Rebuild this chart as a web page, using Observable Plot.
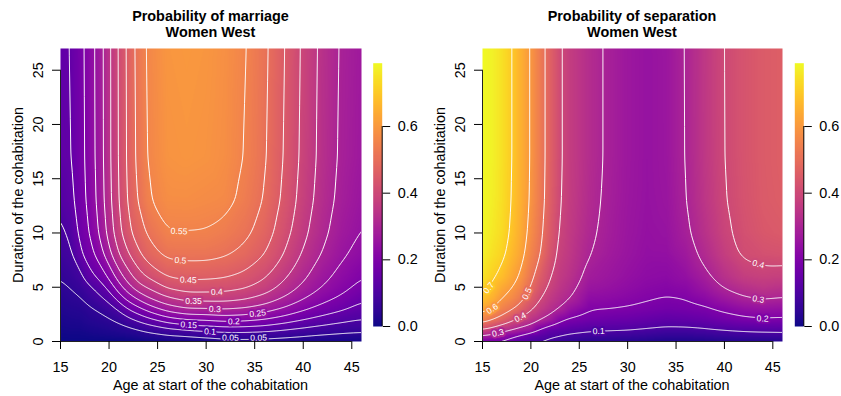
<!DOCTYPE html>
<html><head><meta charset="utf-8">
<script src="https://cdn.jsdelivr.net/npm/d3@7"></script>
<script src="https://cdn.jsdelivr.net/npm/@observablehq/plot@0.6"></script>
<style>
html,body{margin:0;padding:0;background:#fff;}
#chart{position:relative;width:841px;height:396px;overflow:hidden;font-family:"Liberation Sans",Arial,Helvetica,sans-serif;color:#000;}
.title{position:absolute;font-weight:bold;font-size:14.4px;line-height:16px;text-align:center;white-space:nowrap;width:300px;}
.xlab{position:absolute;font-size:14.4px;line-height:16px;text-align:center;white-space:nowrap;width:300px;}
.ylab{position:absolute;font-size:14.4px;line-height:16px;height:16px;text-align:center;white-space:nowrap;width:300px;transform:rotate(-90deg);transform-origin:50% 50%;}
svg{position:absolute;}
</style></head><body><div id="chart"></div>
<script>
// ---------- grid axes ----------
const ages = [15,16,17,18,19,20,21,22,23,24,26,28,30,32,34,36,38,40,42,44,46];
const durations = [0,0.5,1,2,3,4,5,6,8,10,13,17,27];

// ---------- Probability of marriage (rows by duration, columns by age) ----------
const marriage_d0  = [0,0,0,0,0,0,0,0,0.003,0.005,0.006,0.006,0.009,0.02,0.022,0.02,0.018,0.016,0.013,0.012,0.008];
const marriage_d05 = [0.004,0.005,0.005,0.007,0.009,0.011,0.013,0.016,0.022,0.03,0.042,0.048,0.06,0.064,0.066,0.064,0.057,0.049,0.042,0.037,0.032];
const marriage_d1  = [0.008,0.010,0.01,0.015,0.018,0.022,0.027,0.033,0.042,0.055,0.077,0.093,0.107,0.116,0.116,0.11,0.097,0.084,0.072,0.063,0.061];
const marriage_d2  = [0.017,0.020,0.022,0.030,0.036,0.044,0.058,0.085,0.11,0.135,0.179,0.2,0.205,0.218,0.213,0.2,0.177,0.152,0.131,0.114,0.1];
const marriage_d3  = [0.025,0.030,0.033,0.045,0.054,0.075,0.105,0.155,0.185,0.22,0.274,0.3,0.3,0.305,0.296,0.276,0.245,0.211,0.181,0.158,0.135];
const marriage_d4  = [0.034,0.041,0.046,0.065,0.09,0.115,0.175,0.225,0.26,0.3,0.345,0.372,0.372,0.371,0.36,0.335,0.297,0.255,0.219,0.191,0.159];
const marriage_d5  = [0.043,0.051,0.062,0.09,0.122,0.165,0.23,0.285,0.335,0.355,0.411,0.426,0.425,0.42,0.407,0.379,0.335,0.289,0.248,0.216,0.186];
const marriage_d6  = [0.052,0.061,0.08,0.135,0.163,0.208,0.28,0.33,0.38,0.41,0.455,0.462,0.461,0.455,0.438,0.407,0.36,0.31,0.266,0.232,0.203];
const marriage_d8  = [0.07,0.083,0.14,0.18,0.22,0.283,0.352,0.397,0.44,0.475,0.512,0.516,0.515,0.505,0.485,0.451,0.399,0.343,0.295,0.257,0.232];
const marriage_d10 = [0.088,0.106,0.163,0.2,0.252,0.318,0.385,0.44,0.475,0.507,0.548,0.549,0.547,0.534,0.512,0.476,0.421,0.363,0.312,0.272,0.247];
const marriage_d13 = [0.112,0.13,0.174,0.215,0.265,0.334,0.4,0.458,0.502,0.545,0.575,0.576,0.571,0.565,0.535,0.497,0.439,0.378,0.325,0.283,0.259];
const marriage_d17 = [0.133,0.142,0.178,0.222,0.269,0.339,0.404,0.463,0.515,0.556,0.589,0.594,0.589,0.576,0.548,0.507,0.448,0.386,0.332,0.289,0.267];
const marriage_d27 = [0.14,0.145,0.18,0.225,0.27,0.34,0.405,0.465,0.52,0.56,0.595,0.6,0.595,0.58,0.554,0.512,0.453,0.39,0.335,0.292,0.27];

// ---------- Probability of separation ----------
const separation_d0  = [0.19,0.18,0.17,0.15,0.11,0.1,0.085,0.075,0.06,0.05,0.04,0.035,0.03,0.025,0.02,0.02,0.022,0.025,0.028,0.03,0.03];
const separation_d05 = [0.29,0.27,0.245,0.205,0.18,0.14,0.125,0.105,0.1,0.085,0.075,0.07,0.066,0.058,0.05,0.05,0.055,0.062,0.068,0.07,0.072];
const separation_d1  = [0.39,0.36,0.32,0.3,0.27,0.25,0.17,0.14,0.13,0.12,0.105,0.102,0.1,0.09,0.08,0.08,0.088,0.097,0.105,0.11,0.115];
const separation_d2  = [0.55,0.51,0.47,0.42,0.375,0.345,0.31,0.27,0.215,0.19,0.17,0.16,0.155,0.145,0.135,0.14,0.15,0.17,0.185,0.195,0.19];
const separation_d3  = [0.635,0.6,0.55,0.515,0.465,0.41,0.365,0.33,0.3,0.255,0.205,0.202,0.195,0.185,0.175,0.18,0.19,0.215,0.24,0.25,0.245];
const separation_d4  = [0.69,0.655,0.6,0.57,0.525,0.46,0.4,0.36,0.33,0.305,0.235,0.23,0.22,0.207,0.197,0.203,0.228,0.265,0.295,0.31,0.3];
const separation_d5  = [0.725,0.69,0.64,0.605,0.56,0.495,0.43,0.385,0.35,0.325,0.26,0.25,0.236,0.222,0.215,0.225,0.26,0.305,0.335,0.35,0.34];
const separation_d6  = [0.75,0.715,0.68,0.635,0.59,0.52,0.455,0.4,0.363,0.34,0.278,0.262,0.246,0.232,0.228,0.245,0.285,0.335,0.37,0.38,0.375];
const separation_d8  = [0.775,0.745,0.72,0.67,0.625,0.555,0.5,0.43,0.38,0.355,0.301,0.275,0.256,0.242,0.243,0.27,0.318,0.37,0.41,0.42,0.425];
const separation_d10 = [0.785,0.76,0.735,0.69,0.64,0.575,0.515,0.448,0.39,0.362,0.312,0.282,0.26,0.246,0.252,0.287,0.337,0.387,0.42,0.44,0.448];
const separation_d13 = [0.79,0.77,0.742,0.7,0.648,0.59,0.527,0.46,0.4,0.368,0.32,0.287,0.263,0.249,0.258,0.297,0.349,0.397,0.427,0.448,0.457];
const separation_d17 = [0.79,0.775,0.745,0.705,0.65,0.595,0.53,0.465,0.405,0.37,0.325,0.29,0.265,0.25,0.261,0.301,0.354,0.401,0.43,0.45,0.46];
const separation_d27 = [0.79,0.775,0.745,0.705,0.65,0.595,0.53,0.465,0.405,0.37,0.325,0.29,0.265,0.25,0.262,0.302,0.355,0.402,0.43,0.45,0.46];

// ---------- contour levels & label anchors ----------
const marriageLevels = [0.05,0.1,0.15,0.2,0.25,0.3,0.35,0.4,0.45,0.5,0.55];
const marriageLabelLevels = [0.55,0.5,0.45,0.4,0.35,0.3,0.25,0.2,0.15,0.1,0.05,0.05];
const marriageLabelAges   = [27.2,27.35,28.15,31.1,28.7,30.9,35.3,32.85,28.2,30.4,32.5,35.4];
const separationLevels = [0.1,0.2,0.3,0.4,0.5,0.6,0.7];
const separationLabelLevels = [0.7,0.6,0.5,0.4,0.3,0.1,0.4,0.3,0.2];
const separationLabelAges   = [15.65,16.0,19.6,18.9,16.6,27.0,43.5,43.5,43.95];

// ---------- scales / ticks ----------
const xDomain = [15, 46];
const yDomain = [0, 27];
const xTicks = [15,20,25,30,35,40,45];
const yTicks = [0,5,10,15,20,25];
const colorDomain = [0, 0.79];
const colorTicks = [0, 0.2, 0.4, 0.6];
const FONT = '"Liberation Sans", Arial, Helvetica, sans-serif';

const marriageRows = [marriage_d0,marriage_d05,marriage_d1,marriage_d2,marriage_d3,marriage_d4,marriage_d5,marriage_d6,marriage_d8,marriage_d10,marriage_d13,marriage_d17,marriage_d27];
const separationRows = [separation_d0,separation_d05,separation_d1,separation_d2,separation_d3,separation_d4,separation_d5,separation_d6,separation_d8,separation_d10,separation_d13,separation_d17,separation_d27];

// grid -> points; the edge rows/columns are repeated just outside the frame so that
// contour polygons close outside the visible area (and get clipped away)
function toPoints(rows) {
  const pa = [xDomain[0] - 1, ...ages, xDomain[1] + 1];
  const pd = [yDomain[0] - 1, ...durations, yDomain[1] + 1];
  const out = [];
  pd.forEach((d, i) => {
    const row = rows[Math.min(Math.max(i - 1, 0), rows.length - 1)];
    pa.forEach((a, j) => out.push({age: a, dur: d, value: row[Math.min(Math.max(j - 1, 0), row.length - 1)]}));
  });
  return out;
}
function bracket(arr, x) {
  let i = 0;
  while (i < arr.length - 2 && x > arr[i + 1]) i++;
  return [i, (x - arr[i]) / (arr[i + 1] - arr[i])];
}
function valueAt(rows, a, d) {
  const [j, u] = bracket(ages, a);
  const [i, t] = bracket(durations, d);
  const v0 = (1 - u) * rows[i][j] + u * rows[i][j + 1];
  const v1 = (1 - u) * rows[i + 1][j] + u * rows[i + 1][j + 1];
  return (1 - t) * v0 + t * v1;
}
function labelPoints(rows, levels, labelAges, pxA, pxD) {
  return levels.map((lev, k) => {
    const a = labelAges[k];
    let prev = valueAt(rows, a, 0) - lev, dur = 0;
    for (let s = 1; s <= 2700; s++) {
      const d = s / 100;
      const cur = valueAt(rows, a, d) - lev;
      if (prev * cur <= 0) { dur = (s - 1) / 100 + (prev === cur ? 0 : 0.01 * prev / (prev - cur)); break; }
      prev = cur;
    }
    const e = 0.4;
    const dva = (valueAt(rows, a + e, dur) - valueAt(rows, a - e, dur)) / (2 * e);
    const lo = Math.max(0, dur - e);
    const dvd = (valueAt(rows, a, dur + e) - valueAt(rows, a, lo)) / (dur + e - lo);
    const gx = dva / pxA, gy = -dvd / pxD;
    let tx = gy, ty = -gx;
    if (tx < 0) { tx = -tx; ty = -ty; }
    return {age: a, dur, level: lev, text: String(lev), angle: Math.atan2(ty, tx) * 180 / Math.PI};
  });
}

const chart = document.getElementById("chart");
const W = 420, H = 396, MT = 48, MB = 55;

function panel(rows, levels, labLevels, labAges, left, ml, mr) {
  const data = toPoints(rows);
  const pxA = (W - ml - mr) / (xDomain[1] - xDomain[0]);
  const pxD = (H - MT - MB) / (yDomain[1] - yDomain[0]);
  const labels = labelPoints(rows, labLevels, labAges, pxA, pxD);
  const svg = Plot.plot({
    width: W, height: H, marginLeft: ml, marginRight: mr, marginTop: MT, marginBottom: MB,
    style: {fontFamily: FONT, fontSize: "14.4px", background: "transparent", color: "#000", overflow: "visible"},
    x: {domain: xDomain},
    y: {domain: yDomain},
    color: {type: "linear", scheme: "plasma", domain: colorDomain, clamp: true},
    marks: [
      Plot.raster(data, {x: "age", y: "dur", fill: "value", interpolate: "barycentric", pixelSize: 1}),
      Plot.contour(data, {x: "age", y: "dur", value: "value", interpolate: "barycentric", thresholds: levels,
        stroke: "white", fill: "none", strokeWidth: 1, blur: 5,
        x1: xDomain[0] - 1, x2: xDomain[1] + 1, y1: yDomain[0] - 1, y2: yDomain[1] + 1, clip: true, pixelSize: 1}),
      Plot.text(labels, {x: "age", y: "dur", text: "text", rotate: "angle", fill: "white", stroke: "level",
        strokeWidth: 4, fontSize: 8.6, fontFamily: FONT, clip: true}),
      Plot.ruleY([yDomain[0]], {x1: xTicks[0], x2: xTicks[xTicks.length - 1], stroke: "#222"}),
      Plot.ruleX([xDomain[0]], {y1: yTicks[0], y2: yTicks[yTicks.length - 1], stroke: "#222"}),
      Plot.axisX({ticks: xTicks, tickSize: 8, tickPadding: 12, fontSize: 14.4, label: null}),
      Plot.axisY({ticks: yTicks, tickSize: 8, tickPadding: 10, tickRotate: -90, fontSize: 14.4, label: null})
    ]
  });
  svg.style.left = left + "px"; svg.style.top = "0px";
  chart.appendChild(svg);
}

function colorbar(left, width, ml) {
  const svg = Plot.plot({
    width, height: H, marginLeft: ml, marginRight: width - ml - 9, marginTop: 62.7, marginBottom: 70,
    style: {fontFamily: FONT, fontSize: "14.4px", background: "transparent", color: "#000", overflow: "visible"},
    x: {domain: [0, 1], axis: null},
    y: {domain: colorDomain},
    color: {type: "linear", scheme: "plasma", domain: colorDomain, clamp: true},
    marks: [
      Plot.raster({x1: 0, x2: 1, y1: colorDomain[0], y2: colorDomain[1], fill: (x, y) => y, pixelSize: 1}),
      Plot.ruleX([1], {y1: colorTicks[0], y2: colorTicks[colorTicks.length - 1]}),
      Plot.axisY({ticks: colorTicks, anchor: "right", tickSize: 7.5, tickPadding: 8, tickFormat: d3.format(".1f"), fontSize: 14.4, label: null})
    ]
  });
  svg.style.left = left + "px"; svg.style.top = "0px";
  chart.appendChild(svg);
}

function addText(cls, html, left, top) {
  const d = document.createElement("div");
  d.className = cls; d.innerHTML = html;
  d.style.left = left + "px"; d.style.top = top + "px";
  chart.appendChild(d);
}

panel(marriageRows, marriageLevels, marriageLabelLevels, marriageLabelAges, 0, 60, 59);
panel(separationRows, separationLevels, separationLabelLevels, separationLabelAges, 420, 62, 58);
colorbar(360, 70, 12.7);
colorbar(782, 59, 12.3);

addText("title", "Probability of marriage<br>Women West", 210.5 - 150, 7.5);
addText("title", "Probability of separation<br>Women West", 632 - 150, 7.5);
addText("xlab", "Age at start of the cohabitation", 210.5 - 150, 376.5);
addText("xlab", "Age at start of the cohabitation", 632 - 150, 376.5);
addText("ylab", "Duration of the cohabitation", 17.5 - 150, 194.5 - 8);
addText("ylab", "Duration of the cohabitation", 439.5 - 150, 194.5 - 8);
</script></body></html>
